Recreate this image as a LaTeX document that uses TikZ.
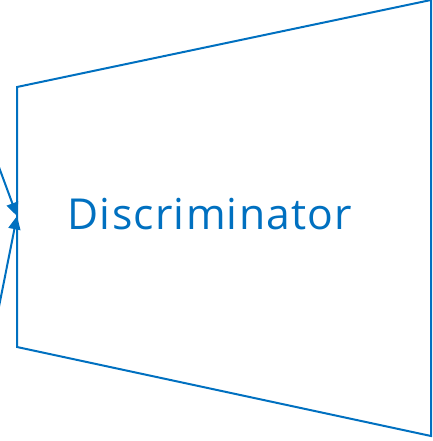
\documentclass[tikz,border=0pt]{standalone}
\usepackage{fontspec}
\setsansfont{Open Sans}
\usetikzlibrary{arrows.meta}
\definecolor{discblue}{HTML}{0070C0}
\begin{document}
\begin{tikzpicture}[x=0.75pt, y=-0.75pt,
    edge/.style={draw=discblue, line width=1.5pt},
    feed/.style={edge, -{Triangle[length=10pt, width=9pt]}}]
  \useasboundingbox (0,0) rectangle (432,441);
  \clip (0,0) rectangle (432,441);

  \coordinate (tl) at (17,87);
  \coordinate (tr) at (431,0);
  \coordinate (br) at (431,436);
  \coordinate (bl) at (17,347);
  \coordinate (inport) at (17,216);
  \coordinate (real) at (-14,132);
  \coordinate (fake) at (-12,362);

  \draw[edge, line join=miter] (tl) -- (tr) -- (br) -- (bl) -- cycle;
  \node (disc) [anchor=base, text=discblue, font=\sffamily\fontsize{32}{37}\selectfont\addfontfeatures{LetterSpace=3}]
        at (210,229) {Discriminator};

  \draw[feed] (real) -- (inport);
  \draw[feed] (fake) -- (inport);
\end{tikzpicture}
\end{document}
